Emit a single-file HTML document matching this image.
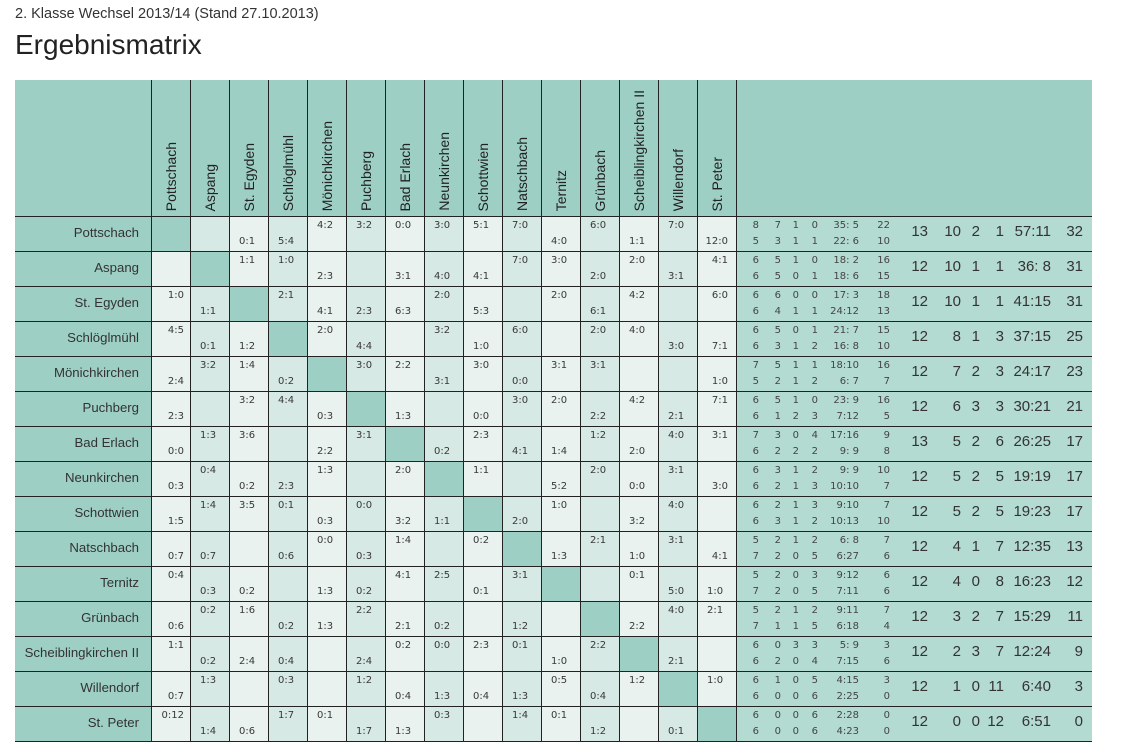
<!DOCTYPE html>
<html><head><meta charset="utf-8">
<style>
html,body{margin:0;padding:0}
body{width:1131px;height:749px;background:#fff;overflow:hidden;position:relative;font-family:"Liberation Sans",Arial,sans-serif}
.sub{position:absolute;left:15px;top:5.5px;font-size:14.5px;line-height:17px;color:#333;white-space:nowrap}
.ttl{position:absolute;left:15px;top:29px;font-size:28px;line-height:32px;color:#222;white-space:nowrap}
table{position:absolute;left:15px;top:80px;border-collapse:separate;border-spacing:0;table-layout:fixed;width:1077px}
td{box-sizing:border-box;padding:0;border-right:1px solid #222;border-bottom:1px solid #222;vertical-align:top}
tr.h{height:137px}
tr.h td{height:137px;background:#9dcfc4;position:relative}
tr.h td div{position:absolute;bottom:5px;left:11px;writing-mode:vertical-rl;transform:rotate(180deg);font-size:14px;line-height:16px;color:#222;white-space:nowrap}
td.st{border-right:none}
tbody tr{height:35px}
tbody tr td{height:35px}
td.n{background:#9dcfc4;text-align:right;padding-right:12px;font-size:13.2px;line-height:32px;color:#333;white-space:nowrap}
td.a,td.b,td.d{font-family:"DejaVu Sans",Verdana,sans-serif;font-size:10px;line-height:16px;padding-top:0.5px;padding-left:9px;color:#383838;white-space:nowrap}
td.a{background:#e9f2ef}
td.b{background:#d7e9e4}
td.d{background:#9dcfc4}
tr td:nth-child(2).a,tr td:nth-child(2).b{text-align:right;padding-left:0;padding-right:6px}
tr td:nth-child(16).a,tr td:nth-child(16).b{text-align:right;padding-left:0;padding-right:8px}
tr td.l{text-align:left!important;padding-left:9px!important;padding-right:0!important}
td.s{background:#b3dbd2;border-right:none;position:relative;font-family:"DejaVu Sans",Verdana,sans-serif;font-size:10px;line-height:16px;padding-top:0.5px;color:#444;white-space:nowrap}
td.s p{margin:0;height:16px}
td.s span{display:inline-block;text-align:right}
td.s p span:nth-child(1){width:22px}
td.s p span:nth-child(2){width:22px}
td.s p span:nth-child(3){width:18px}
td.s p span:nth-child(4){width:19px}
td.s p span:nth-child(5){width:41px}
td.s p span:nth-child(6){width:31px}
td.s q{position:absolute;left:153px;top:0;font-family:"Liberation Sans",Arial,sans-serif;font-size:15px;line-height:30px;color:#333;quotes:none;white-space:nowrap}
td.s q:before,td.s q:after{content:none}
td.s q span:nth-child(1){width:38px}
td.s q span:nth-child(2){width:33px}
td.s q span:nth-child(3){width:19px}
td.s q span:nth-child(4){width:24px}
td.s q span:nth-child(5){width:47px}
td.s q span:nth-child(6){width:32px}
</style></head><body>
<div class="sub">2. Klasse Wechsel 2013/14 (Stand 27.10.2013)</div>
<div class="ttl">Ergebnismatrix</div>
<table>
<colgroup><col style="width:137px"><col style="width:39px"><col style="width:39px"><col style="width:39px"><col style="width:39px"><col style="width:39px"><col style="width:39px"><col style="width:39px"><col style="width:39px"><col style="width:39px"><col style="width:39px"><col style="width:39px"><col style="width:39px"><col style="width:39px"><col style="width:39px"><col style="width:39px"><col style="width:355px"></colgroup>
<thead>
<tr class="h"><td></td><td><div>Pottschach</div></td><td><div>Aspang</div></td><td><div>St. Egyden</div></td><td><div>Schlöglmühl</div></td><td><div>Mönichkirchen</div></td><td><div>Puchberg</div></td><td><div>Bad Erlach</div></td><td><div>Neunkirchen</div></td><td><div>Schottwien</div></td><td><div>Natschbach</div></td><td><div>Ternitz</div></td><td><div>Grünbach</div></td><td><div>Scheiblingkirchen II</div></td><td><div>Willendorf</div></td><td><div>St. Peter</div></td><td class="st"></td></tr>
</thead>
<tbody>
<tr><td class="n">Pottschach</td><td class="d"></td><td class="b"></td><td class="a"><br>0:1</td><td class="b"><br>5:4</td><td class="a">4:2</td><td class="b">3:2</td><td class="a">0:0</td><td class="b">3:0</td><td class="a">5:1</td><td class="b">7:0</td><td class="a"><br>4:0</td><td class="b">6:0</td><td class="a"><br>1:1</td><td class="b">7:0</td><td class="a"><br>12:0</td>
<td class="s"><p><span>8</span><span>7</span><span>1</span><span>0</span><span>35:&nbsp;5</span><span>22</span></p><p><span>5</span><span>3</span><span>1</span><span>1</span><span>22:&nbsp;6</span><span>10</span></p><q><span>13</span><span>10</span><span>2</span><span>1</span><span>57:11</span><span>32</span></q></td></tr>

<tr><td class="n">Aspang</td><td class="a"></td><td class="d"></td><td class="a">1:1</td><td class="b">1:0</td><td class="a"><br>2:3</td><td class="b"></td><td class="a"><br>3:1</td><td class="b"><br>4:0</td><td class="a"><br>4:1</td><td class="b">7:0</td><td class="a">3:0</td><td class="b"><br>2:0</td><td class="a">2:0</td><td class="b"><br>3:1</td><td class="a">4:1</td>
<td class="s"><p><span>6</span><span>5</span><span>1</span><span>0</span><span>18:&nbsp;2</span><span>16</span></p><p><span>6</span><span>5</span><span>0</span><span>1</span><span>18:&nbsp;6</span><span>15</span></p><q><span>12</span><span>10</span><span>1</span><span>1</span><span>36:&nbsp;8</span><span>31</span></q></td></tr>

<tr><td class="n">St. Egyden</td><td class="a">1:0</td><td class="b"><br>1:1</td><td class="d"></td><td class="b">2:1</td><td class="a"><br>4:1</td><td class="b"><br>2:3</td><td class="a"><br>6:3</td><td class="b">2:0</td><td class="a"><br>5:3</td><td class="b"></td><td class="a">2:0</td><td class="b"><br>6:1</td><td class="a">4:2</td><td class="b"></td><td class="a">6:0</td>
<td class="s"><p><span>6</span><span>6</span><span>0</span><span>0</span><span>17:&nbsp;3</span><span>18</span></p><p><span>6</span><span>4</span><span>1</span><span>1</span><span>24:12</span><span>13</span></p><q><span>12</span><span>10</span><span>1</span><span>1</span><span>41:15</span><span>31</span></q></td></tr>

<tr><td class="n">Schlöglmühl</td><td class="a">4:5</td><td class="b"><br>0:1</td><td class="a"><br>1:2</td><td class="d"></td><td class="a">2:0</td><td class="b"><br>4:4</td><td class="a"></td><td class="b">3:2</td><td class="a"><br>1:0</td><td class="b">6:0</td><td class="a"></td><td class="b">2:0</td><td class="a">4:0</td><td class="b"><br>3:0</td><td class="a"><br>7:1</td>
<td class="s"><p><span>6</span><span>5</span><span>0</span><span>1</span><span>21:&nbsp;7</span><span>15</span></p><p><span>6</span><span>3</span><span>1</span><span>2</span><span>16:&nbsp;8</span><span>10</span></p><q><span>12</span><span>8</span><span>1</span><span>3</span><span>37:15</span><span>25</span></q></td></tr>

<tr><td class="n">Mönichkirchen</td><td class="a"><br>2:4</td><td class="b">3:2</td><td class="a">1:4</td><td class="b"><br>0:2</td><td class="d"></td><td class="b">3:0</td><td class="a">2:2</td><td class="b"><br>3:1</td><td class="a">3:0</td><td class="b"><br>0:0</td><td class="a">3:1</td><td class="b">3:1</td><td class="a"></td><td class="b"></td><td class="a"><br>1:0</td>
<td class="s"><p><span>7</span><span>5</span><span>1</span><span>1</span><span>18:10</span><span>16</span></p><p><span>5</span><span>2</span><span>1</span><span>2</span><span>6:&nbsp;7</span><span>7</span></p><q><span>12</span><span>7</span><span>2</span><span>3</span><span>24:17</span><span>23</span></q></td></tr>

<tr><td class="n">Puchberg</td><td class="a"><br>2:3</td><td class="b"></td><td class="a">3:2</td><td class="b">4:4</td><td class="a"><br>0:3</td><td class="d"></td><td class="a"><br>1:3</td><td class="b"></td><td class="a"><br>0:0</td><td class="b">3:0</td><td class="a">2:0</td><td class="b"><br>2:2</td><td class="a">4:2</td><td class="b"><br>2:1</td><td class="a">7:1</td>
<td class="s"><p><span>6</span><span>5</span><span>1</span><span>0</span><span>23:&nbsp;9</span><span>16</span></p><p><span>6</span><span>1</span><span>2</span><span>3</span><span>7:12</span><span>5</span></p><q><span>12</span><span>6</span><span>3</span><span>3</span><span>30:21</span><span>21</span></q></td></tr>

<tr><td class="n">Bad Erlach</td><td class="a"><br>0:0</td><td class="b">1:3</td><td class="a">3:6</td><td class="b"></td><td class="a"><br>2:2</td><td class="b">3:1</td><td class="d"></td><td class="b"><br>0:2</td><td class="a">2:3</td><td class="b"><br>4:1</td><td class="a"><br>1:4</td><td class="b">1:2</td><td class="a"><br>2:0</td><td class="b">4:0</td><td class="a">3:1</td>
<td class="s"><p><span>7</span><span>3</span><span>0</span><span>4</span><span>17:16</span><span>9</span></p><p><span>6</span><span>2</span><span>2</span><span>2</span><span>9:&nbsp;9</span><span>8</span></p><q><span>13</span><span>5</span><span>2</span><span>6</span><span>26:25</span><span>17</span></q></td></tr>

<tr><td class="n">Neunkirchen</td><td class="a"><br>0:3</td><td class="b">0:4</td><td class="a"><br>0:2</td><td class="b"><br>2:3</td><td class="a">1:3</td><td class="b"></td><td class="a">2:0</td><td class="d"></td><td class="a">1:1</td><td class="b"></td><td class="a"><br>5:2</td><td class="b">2:0</td><td class="a"><br>0:0</td><td class="b">3:1</td><td class="a"><br>3:0</td>
<td class="s"><p><span>6</span><span>3</span><span>1</span><span>2</span><span>9:&nbsp;9</span><span>10</span></p><p><span>6</span><span>2</span><span>1</span><span>3</span><span>10:10</span><span>7</span></p><q><span>12</span><span>5</span><span>2</span><span>5</span><span>19:19</span><span>17</span></q></td></tr>

<tr><td class="n">Schottwien</td><td class="a"><br>1:5</td><td class="b">1:4</td><td class="a">3:5</td><td class="b">0:1</td><td class="a"><br>0:3</td><td class="b">0:0</td><td class="a"><br>3:2</td><td class="b"><br>1:1</td><td class="d"></td><td class="b"><br>2:0</td><td class="a">1:0</td><td class="b"></td><td class="a"><br>3:2</td><td class="b">4:0</td><td class="a"></td>
<td class="s"><p><span>6</span><span>2</span><span>1</span><span>3</span><span>9:10</span><span>7</span></p><p><span>6</span><span>3</span><span>1</span><span>2</span><span>10:13</span><span>10</span></p><q><span>12</span><span>5</span><span>2</span><span>5</span><span>19:23</span><span>17</span></q></td></tr>

<tr><td class="n">Natschbach</td><td class="a"><br>0:7</td><td class="b"><br>0:7</td><td class="a"></td><td class="b"><br>0:6</td><td class="a">0:0</td><td class="b"><br>0:3</td><td class="a">1:4</td><td class="b"></td><td class="a">0:2</td><td class="d"></td><td class="a"><br>1:3</td><td class="b">2:1</td><td class="a"><br>1:0</td><td class="b">3:1</td><td class="a"><br>4:1</td>
<td class="s"><p><span>5</span><span>2</span><span>1</span><span>2</span><span>6:&nbsp;8</span><span>7</span></p><p><span>7</span><span>2</span><span>0</span><span>5</span><span>6:27</span><span>6</span></p><q><span>12</span><span>4</span><span>1</span><span>7</span><span>12:35</span><span>13</span></q></td></tr>

<tr><td class="n">Ternitz</td><td class="a">0:4</td><td class="b"><br>0:3</td><td class="a"><br>0:2</td><td class="b"></td><td class="a"><br>1:3</td><td class="b"><br>0:2</td><td class="a">4:1</td><td class="b">2:5</td><td class="a"><br>0:1</td><td class="b">3:1</td><td class="d"></td><td class="b"></td><td class="a">0:1</td><td class="b"><br>5:0</td><td class="a l"><br>1:0</td>
<td class="s"><p><span>5</span><span>2</span><span>0</span><span>3</span><span>9:12</span><span>6</span></p><p><span>7</span><span>2</span><span>0</span><span>5</span><span>7:11</span><span>6</span></p><q><span>12</span><span>4</span><span>0</span><span>8</span><span>16:23</span><span>12</span></q></td></tr>

<tr><td class="n">Grünbach</td><td class="a"><br>0:6</td><td class="b">0:2</td><td class="a">1:6</td><td class="b"><br>0:2</td><td class="a"><br>1:3</td><td class="b">2:2</td><td class="a"><br>2:1</td><td class="b"><br>0:2</td><td class="a"></td><td class="b"><br>1:2</td><td class="a"></td><td class="d"></td><td class="a"><br>2:2</td><td class="b">4:0</td><td class="a l">2:1</td>
<td class="s"><p><span>5</span><span>2</span><span>1</span><span>2</span><span>9:11</span><span>7</span></p><p><span>7</span><span>1</span><span>1</span><span>5</span><span>6:18</span><span>4</span></p><q><span>12</span><span>3</span><span>2</span><span>7</span><span>15:29</span><span>11</span></q></td></tr>

<tr><td class="n">Scheiblingkirchen II</td><td class="a">1:1</td><td class="b"><br>0:2</td><td class="a"><br>2:4</td><td class="b"><br>0:4</td><td class="a"></td><td class="b"><br>2:4</td><td class="a">0:2</td><td class="b">0:0</td><td class="a">2:3</td><td class="b">0:1</td><td class="a"><br>1:0</td><td class="b">2:2</td><td class="d"></td><td class="b"><br>2:1</td><td class="a"></td>
<td class="s"><p><span>6</span><span>0</span><span>3</span><span>3</span><span>5:&nbsp;9</span><span>3</span></p><p><span>6</span><span>2</span><span>0</span><span>4</span><span>7:15</span><span>6</span></p><q><span>12</span><span>2</span><span>3</span><span>7</span><span>12:24</span><span>9</span></q></td></tr>

<tr><td class="n">Willendorf</td><td class="a"><br>0:7</td><td class="b">1:3</td><td class="a"></td><td class="b">0:3</td><td class="a"></td><td class="b">1:2</td><td class="a"><br>0:4</td><td class="b"><br>1:3</td><td class="a"><br>0:4</td><td class="b"><br>1:3</td><td class="a">0:5</td><td class="b"><br>0:4</td><td class="a">1:2</td><td class="d"></td><td class="a l">1:0</td>
<td class="s"><p><span>6</span><span>1</span><span>0</span><span>5</span><span>4:15</span><span>3</span></p><p><span>6</span><span>0</span><span>0</span><span>6</span><span>2:25</span><span>0</span></p><q><span>12</span><span>1</span><span>0</span><span>11</span><span>6:40</span><span>3</span></q></td></tr>

<tr><td class="n">St. Peter</td><td class="a">0:12</td><td class="b"><br>1:4</td><td class="a"><br>0:6</td><td class="b">1:7</td><td class="a">0:1</td><td class="b"><br>1:7</td><td class="a"><br>1:3</td><td class="b">0:3</td><td class="a"></td><td class="b">1:4</td><td class="a">0:1</td><td class="b"><br>1:2</td><td class="a"></td><td class="b"><br>0:1</td><td class="d"></td>
<td class="s"><p><span>6</span><span>0</span><span>0</span><span>6</span><span>2:28</span><span>0</span></p><p><span>6</span><span>0</span><span>0</span><span>6</span><span>4:23</span><span>0</span></p><q><span>12</span><span>0</span><span>0</span><span>12</span><span>6:51</span><span>0</span></q></td></tr>
</tbody>
</table>
</body></html>
